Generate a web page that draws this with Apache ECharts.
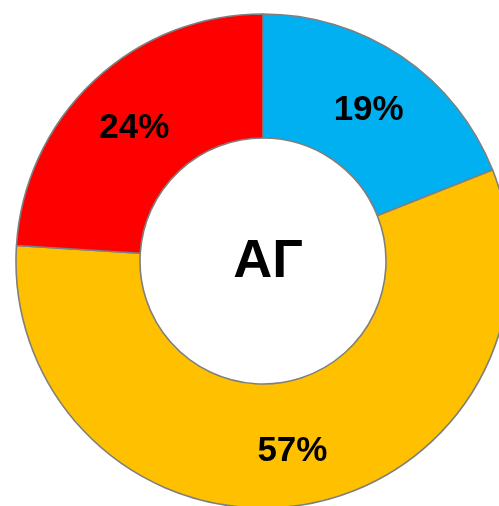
<!DOCTYPE html>
<html>
<head>
<meta charset="utf-8">
<script src="https://cdn.jsdelivr.net/npm/echarts@6/dist/echarts.min.js"></script>
<style>
  html, body { margin: 0; padding: 0; background: #ffffff; }
  #chart { width: 499px; height: 506px; }
</style>
</head>
<body>
<div id="chart"></div>
<script>
// Share of each group, in percent, clockwise from the top
const categories = ['Группа 1', 'Группа 2', 'Группа 3'];
const values = [19, 57, 24];
const colors = ['#00B0F0', '#FFC000', '#FF0000'];
const centerTitle = 'АГ';

const chart = echarts.init(document.getElementById('chart'), null, { renderer: 'canvas' });

const labelFont = {
  fontFamily: 'Liberation Sans, Arial, sans-serif',
  fontWeight: 'bold',
  fontSize: 35,
  color: '#000000'
};

chart.setOption({
  animation: false,
  backgroundColor: '#ffffff',
  title: {
    text: centerTitle,
    left: 263,
    top: 230,
    textAlign: 'center',
    textStyle: {
      fontFamily: 'Liberation Sans, Arial, sans-serif',
      fontWeight: 'bold',
      fontSize: 54,
      color: '#000000'
    }
  },
  series: [{
    type: 'pie',
    center: [263, 261],
    radius: [123, 247],
    startAngle: 90,
    clockwise: true,
    silent: true,
    itemStyle: {
      borderColor: '#7f7f7f',
      borderWidth: 1.6
    },
    label: Object.assign({
      show: true,
      position: 'inside',
      // a short empty first line nudges the percentage slightly below the ring's mid-radius
      formatter: p => '{gap|}\n{v|' + p.value + '%}',
      rich: {
        gap: { lineHeight: 9, fontSize: 1 },
        v: Object.assign({ lineHeight: 40 }, labelFont)
      }
    }, labelFont),
    labelLine: { show: false },
    data: categories.map((name, i) => ({
      name,
      value: values[i],
      itemStyle: { color: colors[i] }
    }))
  }]
});
</script>
</body>
</html>
